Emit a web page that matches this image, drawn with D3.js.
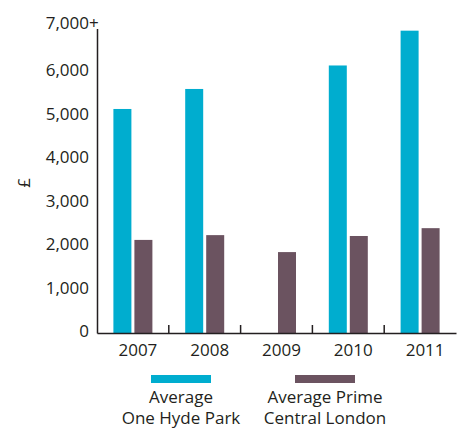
<!DOCTYPE html>
<html><head><meta charset="utf-8">
<script src="https://cdn.jsdelivr.net/npm/d3@7"></script>
<style>
body{margin:0;background:#fff;}
text{font-family:"Open Sans",sans-serif;fill:#231f20;}
</style></head>
<body><svg id="c" width="462" height="429"></svg>
<script>
const years = ["2007","2008","2009","2010","2011"];
const seriesNames = ["Average One Hyde Park","Average Prime Central London"];
const oneHydePark = [5150, 5610, null, 6150, 6950];
const primeCentral = [2140, 2250, 1860, 2230, 2410];
const yTicks = [0,1000,2000,3000,4000,5000,6000,7000];
const colors = ["#00adcf","#6b5360"];
const legendLines = [["Average","One Hyde Park"],["Average Prime","Central London"]];
const FS = 17;

const svg = d3.select("#c");
const x0 = d3.scaleBand().domain(years).range([97,456]).padding(0);
const x1 = d3.scaleBand().domain(seriesNames).range([x0.bandwidth()/2-19.5, x0.bandwidth()/2+19.5]).paddingInner(1/7);
const y = d3.scaleLinear().domain([0,7000]).range([333,28.5]);

const data = years.map((yr,i)=>({year:yr, vals:[oneHydePark[i], primeCentral[i]]}));

const g = svg.append("g");
g.selectAll("g.grp").data(data).join("g").attr("class","grp")
  .attr("transform",d=>`translate(${x0(d.year)},0)`)
  .selectAll("rect").data(d=>d.vals.map((v,k)=>({v,k}))).join("rect")
  .filter(d=>d.v!=null)
  .attr("x",d=>x1(seriesNames[d.k])).attr("width",x1.bandwidth())
  .attr("y",d=>y(d.v)).attr("height",d=>y(0)-y(d.v))
  .attr("fill",d=>colors[d.k]);

// y axis
const ya = svg.append("g").attr("transform","translate(97,0)")
  .call(d3.axisLeft(y).tickValues(yTicks).tickSize(0).tickPadding(8).tickFormat(d3.format(",")));
ya.select(".domain").attr("stroke","#231f20").attr("stroke-width",1.5);
ya.selectAll("text").attr("font-size",FS).attr("font-family","Open Sans").attr("fill","#231f20").attr("dy","0.32em")
  .attr("transform",d=> d===7000 ? "translate(0,-5)" : "translate(0,-1.5)");
ya.selectAll(".tick").filter(d=>d===7000).append("text")
  .attr("x",-8).attr("dy","0.32em").attr("transform","translate(0,-5)")
  .attr("font-size",FS).attr("fill","#231f20").attr("text-anchor","start").text("+");

// x axis
const xa = svg.append("g").attr("transform",`translate(0,${y(0)})`)
  .call(d3.axisBottom(x0).tickSize(0).tickPadding(11));
xa.select(".domain").attr("stroke","#231f20").attr("stroke-width",1.5);
xa.selectAll("text").attr("font-size",FS).attr("fill","#231f20").attr("dx",5);
xa.selectAll(".sep").data(years.slice(1)).join("line").attr("class","sep")
  .attr("x1",d=>x0(d)).attr("x2",d=>x0(d)).attr("y1",0).attr("y2",-8)
  .attr("stroke","#231f20").attr("stroke-width",1.5);

// y label
svg.append("text").attr("transform","translate(30,183) rotate(-90)")
  .attr("text-anchor","middle").attr("font-size",FS).text("£");

// legend
const legX = [181, 325];
seriesNames.forEach((s,i)=>{
  svg.append("rect").attr("x",legX[i]-30).attr("y",375).attr("width",60).attr("height",8).attr("fill",colors[i]);
  legendLines[i].forEach((t,j)=>{
    svg.append("text").attr("x",legX[i]).attr("y",403+j*21).attr("text-anchor","middle").attr("font-size",FS).text(t);
  });
});
</script></body></html>
